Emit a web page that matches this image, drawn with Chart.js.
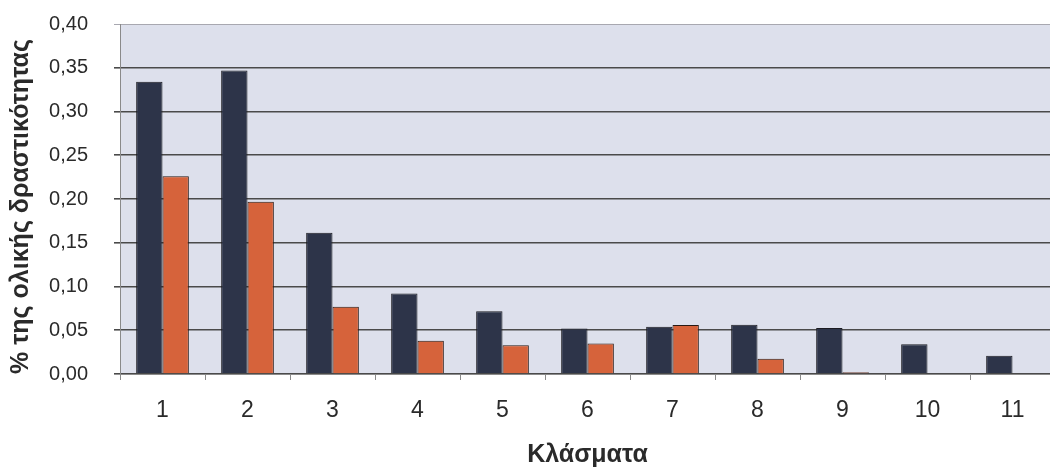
<!DOCTYPE html>
<html>
<head>
<meta charset="utf-8">
<style>
    html, body { margin: 0; padding: 0; background: #ffffff; overflow: hidden; }
    #wrap { width: 1060px; height: 474px; position: relative; }
</style>
</head>
<body>
<div id="wrap">
    <canvas id="myChart"></canvas>
</div>

<script src="https://cdn.jsdelivr.net/npm/chart.js@4.4.1/dist/chart.umd.min.js"></script>

<script>
    // fractions 1..11
    const fractions = ['1', '2', '3', '4', '5', '6', '7', '8', '9', '10', '11'];
    const darkSeries = [0.334, 0.347, 0.1615, 0.092, 0.0716, 0.052, 0.054, 0.0564, 0.0526, 0.034, 0.021];
    const orangeSeries = [0.226, 0.197, 0.077, 0.038, 0.033, 0.035, 0.056, 0.0175, 0.002, 0, 0];
    const yTickLabels = ['0,00', '0,05', '0,10', '0,15', '0,20', '0,25', '0,30', '0,35', '0,40'];

    // grey-lilac panel behind the bars
    var plotBackground = {
        id: 'plotBackground',
        beforeDraw: function (chart) {
            const a = chart.chartArea;
            const c = chart.ctx;
            c.save();
            c.fillStyle = '#dde0ec';
            c.fillRect(a.left, a.top, a.right - a.left, a.bottom - a.top);
            c.restore();
        }
    };

    const ctx = document.getElementById('myChart');
    const font = "'Liberation Sans', Arial, sans-serif";

    new Chart(ctx, {
        type: 'bar',
        data: {
            labels: fractions,
            datasets: [{
                data: darkSeries,
                backgroundColor: '#2d3449',
                borderColor: '#1c1c22',
                borderWidth: 1,
                categoryPercentage: 0.62,
                barPercentage: 1
            }, {
                data: orangeSeries,
                backgroundColor: '#d6633b',
                borderColor: '#2a1a14',
                borderWidth: 1,
                categoryPercentage: 0.62,
                barPercentage: 1
            }]
        },
        options: {
            responsive: true,
            maintainAspectRatio: false,
            animation: false,
            layout: { padding: { top: 24, right: 5, bottom: 0, left: 0 } },
            plugins: {
                legend: { display: false },
                tooltip: { enabled: false }
            },
            scales: {
                x: {
                    afterFit: function (s) { s.height = 100; },
                    grid: {
                        drawOnChartArea: false,
                        drawTicks: true,
                        tickLength: 6,
                        color: '#8a8a8a'
                    },
                    border: { color: '#8a8a8a', width: 1 },
                    ticks: {
                        color: '#2a2a2a',
                        padding: 17,
                        font: { family: font, size: 23 }
                    },
                    title: {
                        display: true,
                        text: 'Κλάσματα',
                        color: '#2a2a2a',
                        padding: { top: 14, bottom: 4 },
                        font: { family: font, size: 25, weight: 'bold' }
                    }
                },
                y: {
                    min: 0,
                    max: 0.4,
                    // fixed width; the wide label gap must not push the plot down
                    afterFit: function (s) {
                        s.width = 120;
                        s.paddingTop = 0;
                        s.paddingBottom = 0;
                    },
                    grid: {
                        tickLength: 6,
                        lineWidth: function (c) { return c.index === 8 ? 1 : 1.6; },
                        color: function (c) { return c.index === 8 ? '#a8a8b0' : '#4a4a4a'; }
                    },
                    border: { color: '#8a8a8a', width: 1 },
                    ticks: {
                        stepSize: 0.05,
                        color: '#2a2a2a',
                        padding: 26,
                        font: { family: font, size: 20 },
                        callback: function (v, i) { return yTickLabels[i]; }
                    },
                    title: {
                        display: true,
                        text: '% της ολικής δραστικότητας',
                        align: 'start',
                        color: '#2a2a2a',
                        padding: { top: 6, bottom: 4 },
                        font: { family: font, size: 25, weight: 'bold' }
                    }
                }
            }
        },
        plugins: [plotBackground]
    });
</script>
</body>
</html>
